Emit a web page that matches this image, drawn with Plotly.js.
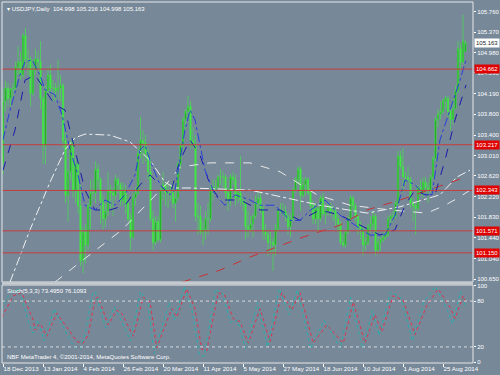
<!DOCTYPE html>
<html><head><meta charset="utf-8">
<script src="https://cdn.plot.ly/plotly-3.0.1.min.js"></script>
<style>html,body{margin:0;padding:0;background:#778899;}#chart{width:500px;height:375px;}</style>
</head><body><div id="chart"></div>
<script>
// ---- daily OHLC, USDJPY, 18 Dec 2013 .. 5 Sep 2014 (bar index = position) ----
const opens = [102.87,104.05,104.30,104.10,104.28,104.30,104.70,104.80,104.55,105.30,104.85,104.85,104.20,104.65,104.85,104.80,104.10,103.20,104.25,104.55,104.30,104.30,104.25,104.30,104.35,103.30,102.25,102.70,103.25,102.35,102.85,102.05,101.00,101.55,101.30,102.05,102.30,102.30,102.75,102.55,102.15,101.80,101.95,102.35,102.30,102.25,102.55,102.45,102.15,102.35,102.10,101.80,101.45,102.20,102.30,103.05,103.30,103.25,103.05,102.70,101.80,101.35,101.75,101.40,102.35,102.45,102.30,102.30,102.30,102.10,102.20,102.85,103.20,103.70,103.85,103.95,103.30,103.20,101.85,101.85,101.55,101.60,101.80,101.80,102.35,102.40,102.40,102.60,102.60,102.60,102.30,102.15,102.60,102.55,102.20,102.30,102.15,102.10,101.65,101.60,101.70,101.85,102.10,102.20,102.00,101.55,101.50,101.35,101.35,101.30,101.60,101.95,101.95,101.95,101.85,101.65,101.80,102.35,102.55,102.75,102.25,102.45,102.55,102.30,102.05,101.80,102.00,101.80,102.20,101.90,101.95,102.05,101.95,101.95,101.80,101.70,101.35,101.30,101.55,101.80,102.20,102.05,101.85,101.65,101.60,101.30,101.35,101.65,101.70,101.85,101.20,101.35,101.40,101.45,101.50,101.80,101.85,101.85,102.10,103.00,102.80,102.60,102.60,102.55,102.10,102.05,102.00,102.40,102.30,102.50,102.40,102.35,102.60,102.95,103.70,103.80,103.85,104.05,104.10,103.85,103.70,103.90,104.25,105.05,104.80,104.998];
const highs = [104.29,104.44,104.40,104.30,104.40,104.80,105.10,105.00,105.35,105.45,105.05,104.90,104.85,105.05,105.00,105.20,104.15,104.35,104.70,104.75,104.45,104.40,104.85,104.55,104.40,103.45,102.75,103.30,103.35,102.95,102.90,102.45,101.65,101.70,102.10,102.55,102.55,102.90,102.85,102.60,102.25,102.10,102.70,102.45,102.40,102.65,102.60,102.50,102.50,102.45,102.25,101.90,102.30,102.40,103.15,103.75,103.50,103.40,103.15,102.95,101.95,101.85,101.85,102.40,102.70,102.50,102.45,102.45,102.50,102.35,102.90,103.25,103.75,103.90,104.15,104.05,103.55,103.40,102.10,102.05,101.75,101.95,102.10,102.45,102.55,102.55,102.65,102.75,102.70,102.65,102.40,102.65,102.70,102.65,102.35,103.00,102.20,102.15,101.95,101.85,101.90,102.25,102.35,102.30,102.05,101.70,101.60,101.55,101.45,101.70,102.00,102.10,102.10,102.05,101.90,101.90,102.40,102.60,102.80,102.80,102.60,102.60,102.60,102.35,102.15,102.10,102.05,102.25,102.30,102.00,102.10,102.10,102.05,102.00,101.90,101.75,101.50,101.60,101.85,102.25,102.25,102.10,101.90,101.75,101.65,101.45,101.70,101.85,101.95,101.90,101.45,101.45,101.55,101.60,101.85,101.90,101.95,102.15,103.10,103.10,103.15,102.70,102.80,102.60,102.20,102.10,102.45,102.55,102.60,102.60,102.50,102.65,103.00,103.75,103.90,104.05,104.10,104.15,104.15,103.95,104.10,104.35,105.20,105.15,105.70,105.216];
const lows = [102.65,103.85,103.95,103.95,104.10,104.25,104.55,104.45,104.50,104.70,104.55,103.95,104.15,104.55,104.65,103.90,102.85,102.85,104.20,104.20,104.05,104.05,104.10,104.05,103.15,102.10,101.75,102.55,102.20,102.10,101.90,100.90,100.76,100.95,101.20,101.60,102.15,102.10,102.40,101.70,101.60,101.65,101.85,102.00,101.85,102.15,102.30,102.05,102.05,101.90,101.75,101.20,101.40,102.05,102.25,102.95,102.85,102.90,102.55,101.75,101.20,101.30,101.35,101.35,102.15,102.05,102.00,102.15,102.00,101.75,102.15,102.75,103.10,103.50,103.75,103.15,103.15,101.75,101.50,101.50,101.30,101.40,101.50,101.75,102.15,102.30,102.35,102.45,102.40,102.20,101.95,102.05,102.45,102.05,102.10,102.05,101.95,101.40,101.45,101.55,101.45,101.80,102.00,101.90,101.40,101.40,101.10,101.15,100.80,101.10,101.55,101.90,101.85,101.75,101.50,101.45,101.75,102.30,102.45,101.95,102.20,102.25,102.25,101.95,101.70,101.70,101.55,101.75,101.85,101.70,101.85,101.85,101.75,101.65,101.55,101.30,101.25,101.25,101.50,101.75,101.95,101.75,101.50,101.40,101.10,101.20,101.30,101.55,101.60,101.10,101.15,101.20,101.35,101.40,101.45,101.70,101.75,101.80,102.05,102.75,102.30,102.45,102.50,102.00,101.75,101.50,101.95,102.25,102.20,102.30,102.10,102.30,102.55,102.90,103.55,103.70,103.80,103.90,103.75,103.50,103.60,103.90,104.20,104.65,104.75,104.998];
const closes = [104.05,104.30,104.10,104.28,104.30,104.70,104.80,104.55,105.30,104.85,104.85,104.20,104.65,104.85,104.80,104.10,103.20,104.25,104.55,104.30,104.30,104.25,104.30,104.35,103.30,102.25,102.70,103.25,102.35,102.85,102.05,101.00,101.55,101.30,102.05,102.30,102.30,102.75,102.55,102.15,101.80,101.95,102.35,102.30,102.25,102.55,102.45,102.15,102.35,102.10,101.80,101.45,102.20,102.30,103.05,103.30,103.25,103.05,102.70,101.80,101.35,101.75,101.40,102.35,102.45,102.30,102.30,102.30,102.10,102.20,102.85,103.20,103.70,103.85,103.95,103.30,103.20,101.85,101.85,101.55,101.60,101.80,101.80,102.35,102.40,102.40,102.60,102.60,102.60,102.30,102.15,102.60,102.55,102.20,102.30,102.15,102.10,101.65,101.60,101.70,101.85,102.10,102.20,102.00,101.55,101.50,101.35,101.35,101.30,101.60,101.95,101.95,101.95,101.85,101.65,101.80,102.35,102.55,102.75,102.25,102.45,102.55,102.30,102.05,101.80,102.00,101.80,102.20,101.90,101.95,102.05,101.95,101.95,101.80,101.70,101.35,101.30,101.55,101.80,102.20,102.05,101.85,101.65,101.60,101.30,101.35,101.65,101.70,101.85,101.20,101.35,101.40,101.45,101.50,101.80,101.85,101.85,102.10,103.00,102.80,102.60,102.60,102.55,102.10,102.05,102.00,102.40,102.30,102.50,102.40,102.35,102.60,102.95,103.70,103.80,103.85,104.05,104.10,103.85,103.70,103.90,104.25,105.05,104.80,105.20,105.163];

// ---- time-axis labels (bar index, text) ----
const dateTickIdx = [0,16,32,48,64,80,96,112,128,144,160,176];
const dateTickText = ['18 Dec 2013','13 Jan 2014','4 Feb 2014','26 Feb 2014','20 Mar 2014','11 Apr 2014','5 May 2014','27 May 2014','18 Jun 2014','10 Jul 2014','1 Aug 2014','25 Aug 2014'];

// ---- price-axis labels ----
const priceTicks = [100.650,101.040,101.440,101.830,102.220,102.620,103.010,103.400,103.800,104.190,104.590,104.980,105.370,105.760];

// ---- horizontal levels ----
const levels = [104.662,103.217,102.343,101.571,101.150];
const lastPrice = 105.163;

// ---- moving averages (bar index, price) ----
const maFastIdx = [0,2.8,6.8,8.8,11.6,14.8,16.8,20.8,23.6,26.8,30,32.8,36.8,40.8,44.8,48.8,52.8,54.8,56.8,58.8,62.8,66.8,68.8,72.8,74.8,76.8,80.8,84.8,88.8,92.8,98.8,102.8,108.8,114.8,118.8,122.8,128.8,134.8,140.8,146.8,152.8,156.8,160.8,164.8,168.8,171.6,174.8,178.8,182.8,185.2];
const maFastVal = [103.31,103.88,104.55,104.80,104.84,104.55,104.27,104.17,103.79,103.12,102.64,102.06,101.97,102.16,102.06,102.26,102.64,103.12,103.21,102.92,102.45,102.26,102.35,103.50,103.88,103.69,102.73,102.26,102.06,102.26,102.16,102.06,102.06,101.77,101.77,101.96,102.16,101.87,101.68,101.49,101.49,101.87,102.54,102.45,102.26,102.26,103.31,103.88,104.45,104.84];
const maMidIdx = [0,4.8,8.8,12.8,16.8,20.8,24.8,28.8,32.8,36.8,42.8,48.8,54.8,58.8,62.8,66.8,70.8,74.8,78.8,82.8,86.8,94.8,102.8,110.8,118.8,126.8,134.8,142.8,150.8,156.8,160.8,164.8,168.8,172.8,176.8,180.8,185.2];
const maMidVal = [102.73,103.50,104.45,104.55,104.26,103.98,103.88,103.12,102.35,101.97,101.97,102.06,102.45,102.64,102.45,102.26,102.92,103.31,103.02,102.45,102.16,102.16,101.97,101.97,101.77,101.97,101.87,101.68,101.49,101.59,102.06,102.35,102.26,102.26,102.92,103.69,104.36];
const maSlowAIdx = [2.8,10.8,18.8,24.8,28.8,32.8,42.8,50.8,58.8,64.8,68.8,74.8,98.8,112,126.8,145.6,158.8,174.8,181.6,186.8];
const maSlowAVal = [100.59,101.59,102.50,103.12,103.35,103.42,103.40,103.27,102.92,102.50,102.39,102.39,102.35,102.22,102.06,101.91,102.03,102.26,102.60,102.73];
const maSlowBIdx = [20.8,30.8,47.6,65.6,70.8,82.8,98.8,110.8,125.6,138.8,154.8,169.6,176.8,182.8,186.8];
const maSlowBVal = [100.59,100.97,101.59,102.48,102.79,102.87,102.87,102.70,102.26,102.06,101.97,101.91,102.06,102.22,102.35];
const maLongIdx = [71.6,86.8,98.8,120,134.8,145.6,158.8,173.6,184];
const maLongVal = [100.59,100.82,101.07,101.45,101.68,101.97,102.16,102.41,102.58];

// ---- stochastic (5,3,3) ----
const stochIdx = [-0.5,4.1,7.5,12.1,12.8,14.8,17.5,21.5,26.8,29.5,32.1,34.1,36.8,38.1,42.1,45.5,47.5,52.1,56.1,58.8,61.5,67.5,69.5,73.5,76.8,79.5,81.5,86.1,88.8,92.1,94.8,98.1,102.8,106.8,111.5,115.5,118.8,124.1,129.5,136.1,140.1,144.8,148.8,151.5,156.1,160.1,164.8,169.5,174.1,178.8,180.8,184.1,185];
const stochD = [59,87,91,55,42,51,34,64,40,27,25,36,83,85,49,68,64,34,85,79,19,70,59,96,70,17,15,91,87,57,53,25,70,27,91,68,91,25,49,25,79,25,62,40,87,81,36,74,96,72,57,87,76.1];
const stochKIdx = [-0.5,3,6.5,10.5,12,14,16.5,20.5,25.8,28.5,31,33,35.8,37,41,44.5,46.5,51,55,57.8,60.5,66.5,68.5,72.5,75.8,78.5,80.5,85,87.8,91,93.8,97,101.8,105.8,110.5,114.5,117.8,123,128.5,135,139,143.8,147.8,150.5,155,159,163.8,168.5,173,177.8,179.8,183,185];
const stochK = [70,92,95,50,38,55,28,70,35,20,18,40,90,92,45,72,60,28,92,80,12,78,55,99,65,10,8,96,90,52,55,18,78,20,96,62,95,18,55,18,85,18,68,35,92,85,28,80,99,68,50,92,73.5];
const stochLevels = [20,80];
const stochTicks = [0,20,80,100];

const idx = closes.map((_, i) => i);
const F = 'Liberation Sans, Arial, sans-serif';

const traces = [
  {type:'candlestick', x: idx, open: opens, high: highs, low: lows, close: closes,
   xaxis:'x', yaxis:'y', whiskerwidth:0,
   increasing:{line:{color:'#3cf03c', width:0.6}, fillcolor:'#109010'},
   decreasing:{line:{color:'#3cf03c', width:0.6}, fillcolor:'#40e840'},
   hoverinfo:'skip', showlegend:false},
  {type:'scatter', mode:'lines', x: maSlowAIdx, y: maSlowAVal, yaxis:'y', line:{color:'#f0f0f0', width:1, dash:'dashdot'}, hoverinfo:'skip'},
  {type:'scatter', mode:'lines', x: maSlowBIdx, y: maSlowBVal, yaxis:'y', line:{color:'#e8e8e8', width:1, dash:'dash'}, hoverinfo:'skip'},
  {type:'scatter', mode:'lines', x: maLongIdx, y: maLongVal, yaxis:'y', line:{color:'#c83232', width:1, dash:'dash'}, hoverinfo:'skip'},
  {type:'scatter', mode:'lines', x: maMidIdx, y: maMidVal, yaxis:'y', line:{color:'#1a1aa8', width:1, dash:'dash'}, hoverinfo:'skip'},
  {type:'scatter', mode:'lines', x: maFastIdx, y: maFastVal, yaxis:'y', line:{color:'#2840d8', width:1, dash:'dashdot'}, hoverinfo:'skip'},
  {type:'scatter', mode:'lines', x: stochKIdx, y: stochK, xaxis:'x', yaxis:'y2', line:{color:'#20b2aa', width:1, dash:'dot'}, hoverinfo:'skip'},
  {type:'scatter', mode:'lines', x: stochIdx, y: stochD, xaxis:'x', yaxis:'y2', line:{color:'#e0304a', width:1, dash:'dot'}, hoverinfo:'skip'}
];

const shapes = [];
levels.forEach(v => shapes.push({type:'line', xref:'paper', x0:0, x1:1, yref:'y', y0:v, y1:v, line:{color:'#c83c3c', width:1}}));
stochLevels.forEach(v => shapes.push({type:'line', xref:'paper', x0:0, x1:1, yref:'y2', y0:v, y1:v, line:{color:'#d8d8d8', width:1, dash:'dot'}}));
shapes.push({type:'rect', xref:'paper', yref:'paper', x0:0, x1:1, y0:0.2244, y1:1, line:{color:'#e8e8e8', width:1}});
shapes.push({type:'rect', xref:'paper', yref:'paper', x0:0, x1:1, y0:0, y1:0.216, line:{color:'#e8e8e8', width:1}});
shapes.push({type:'rect', xref:'paper', yref:'paper', x0:0, x1:1, y0:0.2175, y1:0.2235, line:{width:0}, fillcolor:'#c8cdd2'});

const annotations = [];
levels.forEach(v => annotations.push({xref:'paper', x:1, xanchor:'left', xshift:1, yref:'y', y:v, text:v.toFixed(3), showarrow:false,
  font:{family:F, size:6, color:'#ffffff'}, bgcolor:'#e00000', borderpad:1}));
annotations.push({xref:'paper', x:1, xanchor:'left', xshift:1, yref:'y', y:lastPrice, text:lastPrice.toFixed(3), showarrow:false,
  font:{family:F, size:6, color:'#222222'}, bgcolor:'#ffffff', borderpad:1});
annotations.push({xref:'paper', x:0, xanchor:'left', xshift:3, yref:'paper', y:1, yanchor:'top', yshift:-2,
  text:'▾ USDJPY,Daily  104.998 105.216 104.998 105.163', showarrow:false, font:{family:F, size:6, color:'#ffffff'}});
annotations.push({xref:'paper', x:0, xanchor:'left', xshift:3, yref:'paper', y:0.216, yanchor:'top', yshift:-1,
  text:'Stoch(5,3,3) 73.4950 76.1093', showarrow:false, font:{family:F, size:6, color:'#ffffff'}});
annotations.push({xref:'paper', x:0, xanchor:'left', xshift:3, yref:'paper', y:0, yanchor:'bottom', yshift:1,
  text:'NBF MetaTrader 4, ©2001-2014, MetaQuotes Software Corp.', showarrow:false, font:{family:F, size:6, color:'#ffffff'}});

const layout = {
  width:500, height:375,
  margin:{l:2, r:27, t:2, b:12, pad:0},
  paper_bgcolor:'#778899', plot_bgcolor:'#778899',
  showlegend:false,
  xaxis:{anchor:'y2', range:[-0.4,188], showgrid:false, zeroline:false, rangeslider:{visible:false},
    tickmode:'array', tickvals: dateTickIdx, ticktext: dateTickText, ticks:'outside', ticklen:3, tickcolor:'#ffffff',
    tickangle:0, ticklabelposition:'outside right', automargin:false, tickfont:{family:F, size:6.2, color:'#ffffff'}, showline:false},
  yaxis:{domain:[0.2244,1], range:[100.593,105.945], side:'right', showgrid:false, zeroline:false, automargin:false,
    tickmode:'array', tickvals: priceTicks, ticktext: priceTicks.map(v => v.toFixed(3)),
    ticks:'outside', ticklen:2, tickcolor:'#ffffff', tickfont:{family:F, size:6, color:'#ffffff'}, showline:false},
  yaxis2:{domain:[0,0.216], range:[-1,101], side:'right', showgrid:false, zeroline:false, automargin:false,
    tickmode:'array', tickvals: stochTicks, ticktext: stochTicks.map(String),
    ticks:'outside', ticklen:2, tickcolor:'#ffffff', tickfont:{family:F, size:6, color:'#ffffff'}, showline:false},
  shapes: shapes, annotations: annotations
};

Plotly.newPlot('chart', traces, layout, {staticPlot:true, displayModeBar:false});
</script></body></html>
